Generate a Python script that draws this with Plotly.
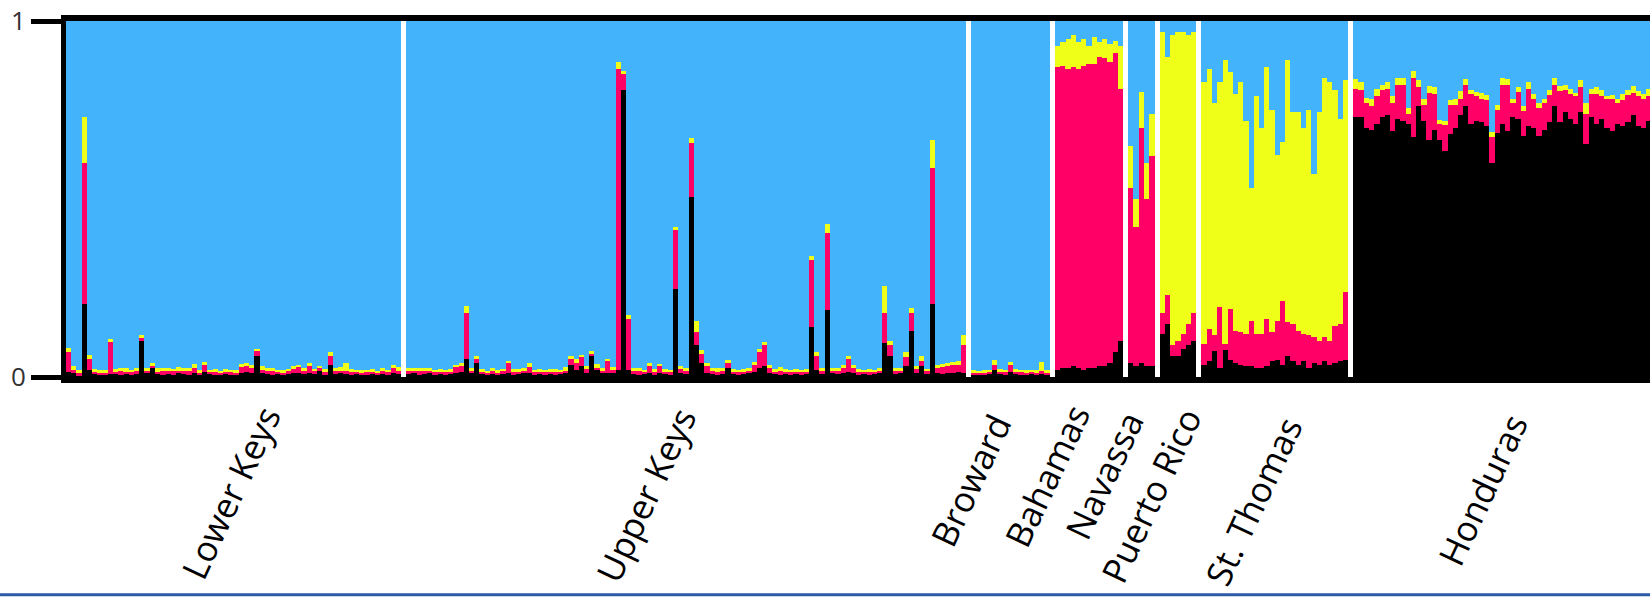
import plotly.graph_objects as go

# ---------------- data (ancestry proportions per individual) ----------------
groups = ["Lower Keys", "Upper Keys", "Broward", "Bahamas", "Navassa",
          "Puerto Rico", "St. Thomas", "Honduras"]

lk_black = [0.015,0.010,0.005,0.205,0.020,0.008,0.006,0.006,0.008,0.008,0.006,0.008,0.006,0.008,0.100,0.010,
            0.025,0.008,0.006,0.008,0.006,0.010,0.008,0.006,0.012,0.006,0.015,0.008,0.006,0.006,0.008,0.006,
            0.006,0.012,0.015,0.012,0.058,0.010,0.008,0.006,0.008,0.006,0.008,0.010,0.012,0.008,0.010,0.008,
            0.018,0.006,0.033,0.008,0.010,0.008,0.006,0.008,0.006,0.006,0.008,0.006,0.008,0.006,0.010,0.008]
lk_pink = [0.055,0.010,0.005,0.395,0.030,0.006,0.005,0.006,0.090,0.006,0.010,0.006,0.008,0.010,0.010,0.006,
           0.006,0.006,0.010,0.008,0.010,0.006,0.008,0.010,0.012,0.006,0.018,0.006,0.008,0.006,0.006,0.008,
           0.006,0.015,0.015,0.012,0.014,0.010,0.008,0.010,0.006,0.006,0.008,0.012,0.015,0.010,0.020,0.008,
           0.006,0.008,0.027,0.010,0.008,0.010,0.008,0.006,0.006,0.008,0.006,0.006,0.008,0.008,0.015,0.010]
lk_yellow = [0.012,0.010,0.010,0.130,0.012,0.008,0.010,0.008,0.010,0.008,0.008,0.010,0.006,0.008,0.008,0.008,
             0.008,0.010,0.008,0.010,0.006,0.012,0.008,0.008,0.012,0.008,0.010,0.006,0.008,0.006,0.008,0.006,
             0.008,0.010,0.008,0.010,0.008,0.010,0.008,0.008,0.006,0.008,0.006,0.008,0.008,0.008,0.010,0.006,
             0.008,0.008,0.010,0.008,0.010,0.022,0.008,0.006,0.008,0.006,0.008,0.006,0.008,0.006,0.008,0.010]

uk_black = [0.008,0.010,0.006,0.008,0.010,0.006,0.008,0.006,0.008,0.012,0.015,0.050,0.010,0.040,0.008,0.006,
            0.008,0.006,0.008,0.010,0.006,0.008,0.010,0.012,0.006,0.008,0.006,0.008,0.006,0.008,0.010,0.034,
            0.020,0.030,0.012,0.060,0.020,0.010,0.010,0.012,0.020,0.806,0.020,0.008,0.006,0.008,0.010,0.006,
            0.010,0.008,0.006,0.247,0.010,0.008,0.505,0.090,0.040,0.010,0.008,0.006,0.008,0.025,0.008,0.006,
            0.008,0.010,0.015,0.025,0.030,0.010,0.008,0.006,0.008,0.006,0.008,0.006,0.008,0.140,0.020,0.008,
            0.187,0.010,0.008,0.010,0.015,0.010,0.006,0.008,0.006,0.008,0.010,0.095,0.060,0.008,0.010,0.030,
            0.130,0.010,0.030,0.008,0.205,0.010,0.008,0.012,0.010,0.015,0.010]
uk_pink = [0.008,0.006,0.010,0.008,0.006,0.008,0.006,0.008,0.006,0.015,0.015,0.130,0.006,0.010,0.006,0.006,
           0.008,0.006,0.008,0.028,0.008,0.006,0.008,0.016,0.008,0.006,0.008,0.006,0.008,0.006,0.008,0.016,
           0.020,0.028,0.010,0.005,0.005,0.008,0.034,0.008,0.845,0.044,0.143,0.008,0.010,0.006,0.020,0.008,
           0.020,0.006,0.008,0.166,0.012,0.010,0.152,0.037,0.025,0.020,0.010,0.008,0.010,0.015,0.006,0.008,
           0.006,0.008,0.020,0.045,0.060,0.015,0.006,0.010,0.006,0.008,0.006,0.008,0.006,0.190,0.040,0.010,
           0.217,0.008,0.010,0.015,0.035,0.015,0.008,0.006,0.008,0.006,0.008,0.085,0.030,0.010,0.008,0.025,
           0.050,0.012,0.015,0.008,0.383,0.015,0.020,0.020,0.025,0.020,0.080]
uk_yellow = [0.008,0.010,0.008,0.010,0.008,0.006,0.008,0.006,0.008,0.008,0.008,0.020,0.008,0.010,0.008,0.006,
             0.008,0.008,0.006,0.008,0.008,0.008,0.008,0.010,0.006,0.008,0.006,0.008,0.008,0.006,0.010,0.008,
             0.010,0.005,0.010,0.008,0.012,0.008,0.006,0.008,0.020,0.010,0.010,0.008,0.008,0.006,0.008,0.008,
             0.006,0.008,0.006,0.008,0.008,0.008,0.013,0.031,0.010,0.008,0.008,0.010,0.006,0.008,0.008,0.006,
             0.008,0.006,0.008,0.008,0.008,0.008,0.008,0.012,0.008,0.006,0.008,0.006,0.008,0.010,0.010,0.006,
             0.026,0.008,0.006,0.008,0.010,0.008,0.008,0.006,0.008,0.006,0.008,0.075,0.010,0.008,0.006,0.015,
             0.015,0.008,0.015,0.006,0.079,0.008,0.008,0.006,0.008,0.010,0.027]

br_black = [0.006,0.005,0.006,0.008,0.020,0.008,0.006,0.015,0.008,0.006,0.006,0.008,0.005,0.008,0.006]
br_pink = [0.005,0.006,0.005,0.006,0.015,0.006,0.008,0.018,0.006,0.008,0.005,0.006,0.006,0.010,0.006]
br_yellow = [0.008,0.006,0.008,0.006,0.012,0.008,0.006,0.010,0.008,0.006,0.008,0.006,0.008,0.025,0.008]

ba_black = [0.020,0.025,0.025,0.030,0.025,0.020,0.025,0.025,0.030,0.030,0.040,0.070,0.100]
ba_pink = [0.850,0.850,0.840,0.840,0.840,0.855,0.855,0.855,0.870,0.865,0.845,0.840,0.710]
ba_yellow = [0.060,0.065,0.085,0.090,0.075,0.075,0.050,0.075,0.040,0.055,0.050,0.035,0.120]

na_black = [0.040,0.030,0.040,0.030,0.030]
na_pink = [0.490,0.390,0.660,0.470,0.590]
na_yellow = [0.120,0.080,0.100,0.100,0.120]

pr_black = [0.120,0.150,0.060,0.060,0.080,0.090,0.100]
pr_pink = [0.060,0.080,0.030,0.040,0.040,0.060,0.080]
pr_yellow = [0.790,0.670,0.870,0.870,0.850,0.810,0.790]

st_black = [0.033,0.044,0.072,0.025,0.075,0.047,0.039,0.033,0.030,0.030,0.025,0.025,0.030,0.044,
            0.047,0.033,0.058,0.044,0.033,0.044,0.025,0.039,0.033,0.044,0.033,0.039,0.044,0.047]
st_pink = [0.061,0.092,0.045,0.172,0.019,0.143,0.091,0.094,0.092,0.128,0.097,0.097,0.133,0.083,
           0.111,0.180,0.097,0.106,0.097,0.078,0.092,0.074,0.067,0.069,0.067,0.105,0.106,0.191]
st_yellow = [0.736,0.729,0.653,0.633,0.796,0.666,0.665,0.703,0.598,0.372,0.668,0.578,0.707,0.623,
             0.467,0.447,0.735,0.595,0.615,0.578,0.633,0.457,0.645,0.727,0.730,0.661,0.575,0.597]

ho_black = [0.730,0.730,0.700,0.695,0.710,0.730,0.735,0.690,0.725,0.720,0.710,0.675,0.760,0.720,0.667,0.695,
            0.667,0.634,0.684,0.700,0.737,0.760,0.710,0.720,0.717,0.704,0.600,0.685,0.710,0.690,0.730,0.725,
            0.676,0.704,0.700,0.676,0.695,0.717,0.760,0.717,0.745,0.725,0.710,0.745,0.654,0.730,0.710,0.725,
            0.700,0.690,0.710,0.704,0.717,0.737,0.704,0.700,0.720]
ho_pink = [0.080,0.075,0.070,0.065,0.080,0.075,0.075,0.080,0.095,0.100,0.030,0.165,0.055,0.045,0.130,0.100,
           0.045,0.075,0.080,0.065,0.045,0.060,0.085,0.070,0.065,0.075,0.075,0.065,0.110,0.130,0.040,0.075,
           0.070,0.105,0.080,0.080,0.075,0.075,0.060,0.085,0.060,0.070,0.080,0.070,0.085,0.065,0.085,0.065,
           0.080,0.090,0.060,0.075,0.075,0.060,0.085,0.080,0.070]
ho_yellow = [0.026,0.025,0.015,0.020,0.020,0.015,0.020,0.020,0.020,0.020,0.015,0.020,0.018,0.015,0.020,0.020,
             0.010,0.010,0.015,0.015,0.020,0.016,0.010,0.010,0.015,0.012,0.014,0.015,0.020,0.016,0.010,0.015,
             0.015,0.020,0.015,0.015,0.010,0.015,0.020,0.015,0.015,0.015,0.008,0.018,0.030,0.015,0.020,0.015,
             0.010,0.012,0.010,0.015,0.015,0.020,0.015,0.015,0.020]

group_data = [(lk_black, lk_pink, lk_yellow), (uk_black, uk_pink, uk_yellow),
              (br_black, br_pink, br_yellow), (ba_black, ba_pink, ba_yellow),
              (na_black, na_pink, na_yellow), (pr_black, pr_pink, pr_yellow),
              (st_black, st_pink, st_yellow), (ho_black, ho_pink, ho_yellow)]

# ---------------- layout constants ----------------
GAP = 1.0          # white separator between populations, in individual widths
X_END = 302.7      # visible x extent (Honduras continues past the edge)
C_BLACK, C_PINK, C_YELLOW, C_BLUE = "#000000", "#ff0066", "#f0ff17", "#43b3fb"

xs, B, P, Y, U, centers = [], [], [], [], [], []
off = 0.0
for b, p, y in group_data:
    n = len(b)
    for i in range(n):
        xs.append(off + i + 0.5)
        B.append(b[i]); P.append(p[i]); Y.append(y[i])
        U.append(max(0.0, 1.0 - b[i] - p[i] - y[i]))
    centers.append(off + n / 2)
    off += n + GAP

fig = go.Figure()
for vals, col in [(B, C_BLACK), (P, C_PINK), (Y, C_YELLOW), (U, C_BLUE)]:
    fig.add_bar(x=xs, y=vals, width=1.03, marker=dict(color=col, line=dict(width=0)),
                hoverinfo="skip", showlegend=False)

# population labels: (xshift px, yshift px) of the label's upper end
label_shift = [(60, -19), (23, -20), (13, -27), (14, -17), (15, -24), (36, -21), (40, -30), (38, -26)]
for name, cx, (dx, dy) in zip(groups, centers, label_shift):
    fig.add_annotation(x=cx, y=0, xref="x", yref="paper", text=name, showarrow=False,
                       textangle=-65, xanchor="right", yanchor="top", xshift=dx, yshift=dy,
                       font=dict(family="Open Sans", size=35, color="#000000"))

# blue rule at the very bottom of the picture
fig.add_shape(type="line", xref="paper", yref="paper", x0=-0.05, x1=1.01,
              y0=-0.612, y1=-0.612, line=dict(color="#2b5aa8", width=3))

fig.update_layout(
    width=1650, height=597, barmode="stack", bargap=0,
    margin=dict(l=66, r=0, t=21, b=220),
    paper_bgcolor="white", plot_bgcolor="white",
    xaxis=dict(range=[0, X_END], showgrid=False, zeroline=False, showticklabels=False,
               ticks="", showline=True, linewidth=6, linecolor="black", mirror=True),
    yaxis=dict(range=[0, 1], showgrid=False, zeroline=False, tickvals=[0, 1], ticktext=["0", "1"],
               ticks="outside", ticklen=30, tickwidth=5, tickcolor="black",
               showline=True, linewidth=5, linecolor="black",
               tickfont=dict(family="Open Sans", size=26, color="#333333")),
)

fig.write_html("out.html", config={"displayModeBar": False},
               post_script="document.body.style.margin='0px';document.body.style.overflow='hidden';")
